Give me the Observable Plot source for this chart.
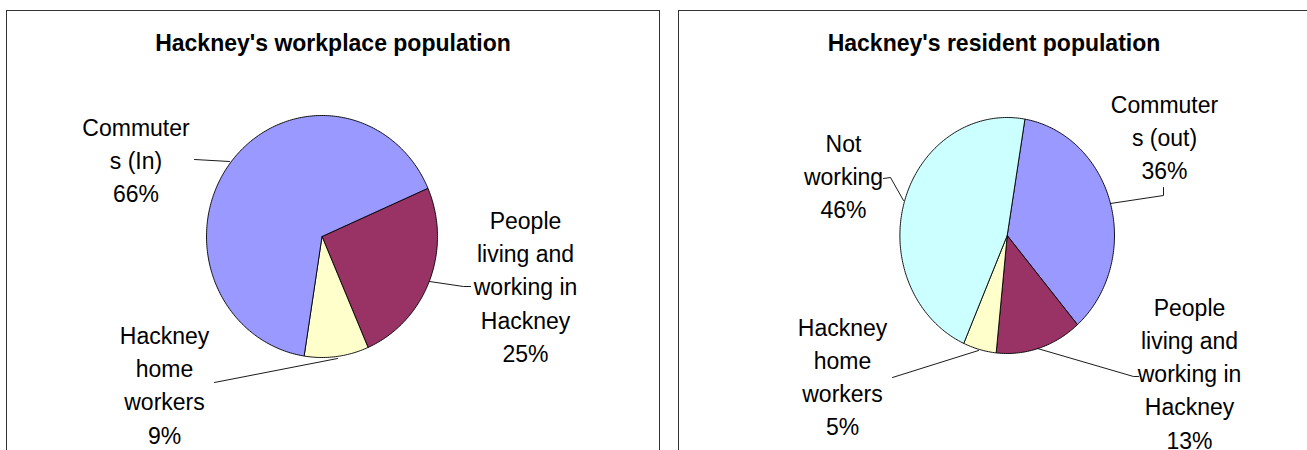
<!DOCTYPE html>
<html><head><meta charset="utf-8">
<script src="https://cdn.jsdelivr.net/npm/d3@7"></script>
<script src="https://cdn.jsdelivr.net/npm/@observablehq/plot@0.6"></script>
<style>
body{margin:0;background:#fff;}
#wrap{position:relative;width:1307px;height:450px;overflow:hidden;font-family:"Liberation Sans",Arial,sans-serif;}
.panel{position:absolute;top:10px;height:540px;border:1px solid #333;box-sizing:border-box;background:#fff;}
.title{position:absolute;left:0;right:0;top:20.5px;text-align:center;font-weight:bold;font-size:23px;line-height:23px;color:#000;white-space:nowrap;}
.panel svg{position:absolute;left:0;top:0;}
</style></head><body>
<div id="wrap"></div>
<script>
// ---------- DATA ----------
const workplaceTitle = "Hackney's workplace population";
const workplaceCategories = ["People living and working in Hackney", "Hackney home workers", "Commuters (In)"];
const workplaceLabels = ["People\nliving and\nworking in\nHackney", "Hackney\nhome\nworkers", "Commuter\ns (In)"];
const workplaceValues = [25, 9, 66];

const residentTitle = "Hackney's resident population";
const residentCategories = ["Commuters (out)", "People living and working in Hackney", "Hackney home workers", "Not working"];
const residentLabels = ["Commuter\ns (out)", "People\nliving and\nworking in\nHackney", "Hackney\nhome\nworkers", "Not\nworking"];
const residentValues = [36, 13, 5, 46];

const categoryColors = {
  "Commuters (In)": "#9999ff",
  "Commuters (out)": "#9999ff",
  "People living and working in Hackney": "#993366",
  "Hackney home workers": "#ffffcc",
  "Not working": "#ccffff"
};

// ---------- LAYOUT (page pixel coordinates) ----------
const FONT = "Liberation Sans, Arial, sans-serif";
const LINE = 33.3;
const layouts = [
  {
    title: workplaceTitle, categories: workplaceCategories, labels: workplaceLabels, values: workplaceValues,
    left: 6, width: 654, cx: 321.5, cy: 236, rx: 115.5, ry: 121, start: 66.5,
    labelPos: [[525, 228.3], [164, 343.3], [135.5, 135]],
    leaders: [
      [[429, 281], [463, 286], [470, 286]],
      [[337, 358], [214, 382]],
      [[229, 161], [194, 159]]
    ]
  },
  {
    title: residentTitle, categories: residentCategories, labels: residentLabels, values: residentValues,
    left: 678, width: 632, cx: 1006.7, cy: 235, rx: 107.3, ry: 118, start: 9.5,
    labelPos: [[1164, 112], [1189, 315], [842, 335], [843, 151]],
    leaders: [
      [[1163, 187], [1163, 195], [1110, 203]],
      [[1037, 348], [1133, 376], [1138, 376]],
      [[978, 350], [892, 377]],
      [[903, 200], [890, 177], [883, 178]]
    ]
  }
];

const wrap = document.getElementById("wrap");

for (const L of layouts) {
  const panel = document.createElement("div");
  panel.className = "panel";
  panel.style.left = L.left + "px";
  panel.style.width = L.width + "px";
  const t = document.createElement("div");
  t.className = "title";
  t.textContent = L.title;
  panel.appendChild(t);

  const W = L.width - 2, H = 439;
  const x0 = L.left + 1, y0 = 11;
  const total = d3.sum(L.values);

  // slices: clockwise from 12 o'clock, starting at L.start degrees
  const marks = [];
  let a = L.start;
  L.values.forEach((v, i) => {
    const a0 = a, a1 = a + v / total * 360;
    a = a1;
    const pts = [{x: L.cx, y: L.cy}];
    const n = Math.max(2, Math.ceil(a1 - a0));
    for (let k = 0; k <= n; k++) {
      const th = (a0 + (a1 - a0) * k / n) * Math.PI / 180;
      pts.push({x: L.cx + L.rx * Math.sin(th), y: L.cy - L.ry * Math.cos(th)});
    }
    pts.push({x: L.cx, y: L.cy});
    marks.push(Plot.line(pts, {x: "x", y: "y", fill: categoryColors[L.categories[i]], stroke: "#000", strokeWidth: 0.9, strokeLinejoin: "round"}));
  });

  // leader lines
  const leaderPts = [];
  L.leaders.forEach((seg, i) => seg.forEach(([px, py]) => leaderPts.push({x: px, y: py, k: i})));
  marks.push(Plot.line(leaderPts, {x: "x", y: "y", z: "k", stroke: "#000", strokeWidth: 0.9}));

  // labels
  const textRows = L.labels.map((lab, i) => {
    const txt = lab + "\n" + L.values[i] + "%";
    const n = txt.split("\n").length;
    return {text: txt, x: L.labelPos[i][0], y: L.labelPos[i][1] + (n - 1) * LINE};
  });
  marks.push(Plot.text(textRows, {
    x: "x", y: "y", text: "text", textAnchor: "middle", lineAnchor: "bottom",
    lineHeight: LINE / 23, fontSize: 23, fontFamily: FONT, fill: "#000"
  }));

  const svg = Plot.plot({
    width: W, height: H,
    margin: 0,
    x: {type: "linear", domain: [x0, x0 + W], range: [0, W], axis: null},
    y: {type: "linear", domain: [y0, y0 + H], range: [0, H], axis: null},
    style: {background: "transparent", fontFamily: FONT},
    marks
  });
  panel.appendChild(svg);
  wrap.appendChild(panel);
}
</script>
</body></html>
